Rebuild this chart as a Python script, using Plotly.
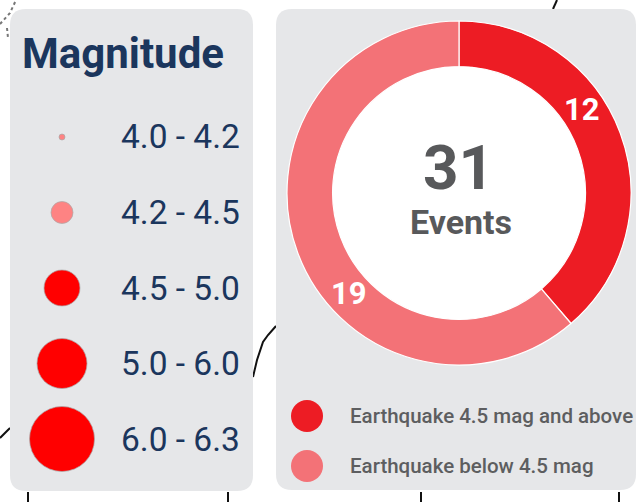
import math
import plotly.graph_objects as go

# ---------------- data ----------------
legend_title = "Magnitude"
magnitude_ranges = ["4.0 - 4.2", "4.2 - 4.5", "4.5 - 5.0", "5.0 - 6.0", "6.0 - 6.3"]
event_labels = ["Earthquake 4.5 mag and above", "Earthquake below 4.5 mag"]
event_counts = [12, 19]
center_caption = "Events"

# ---------------- styles ----------------
range_marker_sizes = [6, 22, 36, 50, 65]
range_marker_colors = ["#fe8383", "#fe8383", "#ff0000", "#ff0000", "#ff0000"]
event_colors = ["#ed1c24", "#f37277"]
NAVY = "#1b365d"
GREY_TXT = "#58595b"
PANEL = "#e6e7e9"
SANS = "Roboto, Inter, Lato, sans-serif"

W, H = 637, 502


def px(x):
    return x / W


def py(y):
    return 1 - y / H


def rrect(x0, y0, x1, y1, r):
    X0, X1 = px(x0), px(x1)
    Y0, Y1 = py(y0), py(y1)
    rx, ry = r / W, r / H
    return (f"M {X0+rx},{Y0} L {X1-rx},{Y0} Q {X1},{Y0} {X1},{Y0-ry} "
            f"L {X1},{Y1+ry} Q {X1},{Y1} {X1-rx},{Y1} L {X0+rx},{Y1} "
            f"Q {X0},{Y1} {X0},{Y1+ry} L {X0},{Y0-ry} Q {X0},{Y0} {X0+rx},{Y0} Z")


fig = go.Figure()

# ---------- decorative background lines (map fragments) ----------
deco = [
    [(253, 377), (257, 360), (263, 342), (268, 335), (276, 326)],
    [(0, 438), (10, 428)],
    [(557, 0), (553, 9)],
    [(28, 492), (28, 502)],
    [(228, 492), (228, 502)],
    [(421, 492), (421, 502)],
    [(619, 492), (619, 502)],
]
shapes = []
for pts in deco:
    path = "M " + " L ".join(f"{px(a)},{py(b)}" for a, b in pts)
    shapes.append(dict(type="path", path=path, xref="paper", yref="paper",
                       line=dict(color="#111111", width=2), layer="below"))
shapes.append(dict(type="path", xref="paper", yref="paper", layer="below",
                   path=f"M {px(0)},{py(24)} L {px(10)},{py(13)} L {px(16)},{py(0)}",
                   line=dict(color="#777777", width=2, dash="dot")))
shapes.append(dict(type="path", xref="paper", yref="paper", layer="below",
                   path=f"M {px(7)},{py(28)} L {px(8)},{py(38)}",
                   line=dict(color="#777777", width=2, dash="dot")))

# ---------- panels ----------
shapes.append(dict(type="path", path=rrect(10, 9, 253, 491, 16), xref="paper", yref="paper",
                   fillcolor=PANEL, line=dict(width=0), layer="below"))
shapes.append(dict(type="path", path=rrect(276, 9, 636, 490, 16), xref="paper", yref="paper",
                   fillcolor=PANEL, line=dict(width=0), layer="below"))

# ---------- donut ----------
CX, CY, R = 459, 193, 172
HOLE = 0.735
shapes.append(dict(type="circle", xref="paper", yref="paper", layer="below",
                   x0=px(CX - R * HOLE), x1=px(CX + R * HOLE),
                   y0=py(CY + R * HOLE), y1=py(CY - R * HOLE),
                   fillcolor="white", line=dict(width=0)))

fig.add_trace(go.Pie(
    values=event_counts, labels=event_labels, hole=HOLE, sort=False,
    direction="clockwise", rotation=0, textinfo="none", hoverinfo="label+value",
    marker=dict(colors=event_colors, line=dict(color="white", width=1.2)),
    domain=dict(x=[px(CX - R), px(CX + R)], y=[py(CY + R), py(CY - R)]),
    showlegend=False,
))

annotations = []
total = sum(event_counts)
annotations.append(dict(text=f"<b>{total}</b>", x=px(458), y=py(168), xref="paper", yref="paper",
                        showarrow=False, xanchor="center", yanchor="middle",
                        font=dict(family=SANS, size=62, color=GREY_TXT)))
annotations.append(dict(text=f"<b>{center_caption}</b>", x=px(461), y=py(222), xref="paper", yref="paper",
                        showarrow=False, xanchor="center", yanchor="middle",
                        font=dict(family=SANS, size=34, color=GREY_TXT)))

# slice value labels, placed along each slice
start = 0.0
for v in event_counts:
    span = 360.0 * v / total
    ang = math.radians(start + 0.40 * span)
    rr = R * (1 + HOLE) / 2
    lx, ly = CX + rr * math.sin(ang), CY - rr * math.cos(ang)
    annotations.append(dict(text=f"<b>{v}</b>", x=px(lx), y=py(ly), xref="paper", yref="paper",
                            showarrow=False, xanchor="center", yanchor="middle",
                            font=dict(family=SANS, size=31, color="white")))
    start += span

# ---------- magnitude legend (left panel) ----------
n = len(magnitude_ranges)
FIRST, STEP = 137, 75.5
top_px = FIRST - STEP / 2
bot_px = FIRST + STEP * (n - 1) + STEP / 2
fig.add_trace(go.Scatter(
    x=[62] * n, y=list(range(n)), mode="markers", xaxis="x", yaxis="y",
    marker=dict(size=range_marker_sizes, color=range_marker_colors, opacity=1,
                line=dict(color="rgba(170,170,170,0.7)", width=1)),
    text=magnitude_ranges, hoverinfo="text", showlegend=False,
))
for i, lab in enumerate(magnitude_ranges):
    annotations.append(dict(text=lab, x=119, y=i, xref="x", yref="y", showarrow=False,
                            xanchor="left", yanchor="middle",
                            font=dict(family=SANS, size=33.5, color=NAVY)))
annotations.append(dict(text=f"<b>{legend_title}</b>", x=px(20), y=py(53), xref="paper", yref="paper",
                        showarrow=False, xanchor="left", yanchor="middle",
                        font=dict(family=SANS, size=42, color=NAVY)))

# ---------- event legend (right panel) ----------
m = len(event_labels)
F2, S2 = 416, 50
fig.add_trace(go.Scatter(
    x=[307] * m, y=list(range(m)), mode="markers", xaxis="x2", yaxis="y2",
    marker=dict(size=32, color=event_colors, opacity=1, line=dict(width=0)),
    text=event_labels, hoverinfo="text", showlegend=False,
))
for i, lab in enumerate(event_labels):
    annotations.append(dict(text=lab, x=348, y=i, xref="x2", yref="y2", showarrow=False,
                            xanchor="left", yanchor="middle",
                            font=dict(family=SANS, size=20.5, color="#5d5e60", weight=500)))

hidden = dict(visible=False, fixedrange=True, showgrid=False, zeroline=False)
fig.update_layout(
    width=W, height=H, margin=dict(l=0, r=0, t=0, b=0),
    paper_bgcolor="white", plot_bgcolor="rgba(0,0,0,0)",
    xaxis=dict(domain=[0, 1], range=[0, W], anchor="y", **hidden),
    yaxis=dict(domain=[py(bot_px), py(top_px)], range=[n - 0.5, -0.5], anchor="x", **hidden),
    xaxis2=dict(domain=[0, 1], range=[0, W], anchor="y2", **hidden),
    yaxis2=dict(domain=[py(F2 + S2 * (m - 1) + S2 / 2), py(F2 - S2 / 2)],
                range=[m - 0.5, -0.5], anchor="x2", **hidden),
    shapes=shapes, annotations=annotations,
)

fig.write_html("out.html", config={"displayModeBar": False},
               post_script="document.body.style.margin='0';")
